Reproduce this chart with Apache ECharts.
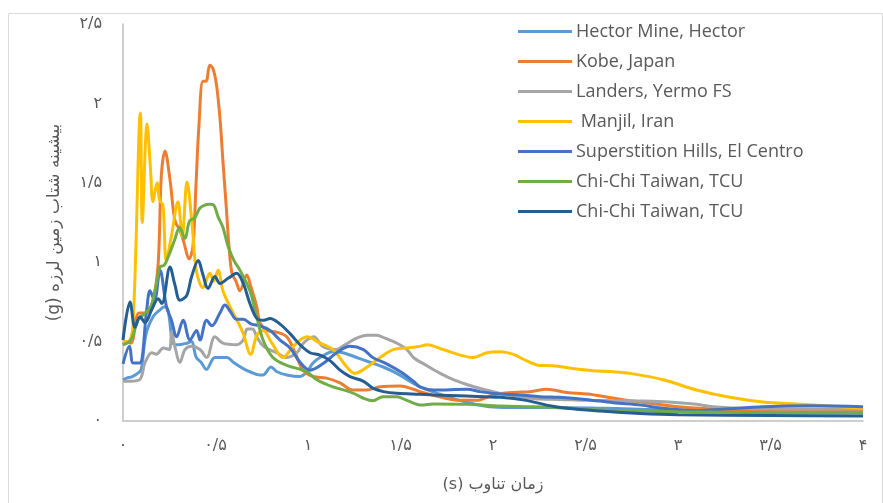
<!DOCTYPE html>
<html>
<head>
<meta charset="utf-8">
<script src="https://cdn.jsdelivr.net/npm/echarts@6/dist/echarts.min.js"></script>
<style>
html,body{margin:0;padding:0;background:#fff;}
#chart{width:883px;height:503px;}
</style>
</head>
<body>
<div id="chart"></div>
<script>
// ---- Data (period s, PGA g) ----
const seriesNames = ['Hector Mine, Hector','Kobe, Japan','Landers, Yermo FS',' Manjil, Iran','Superstition Hills, El Centro','Chi-Chi Taiwan, TCU','Chi-Chi Taiwan, TCU '];
const seriesColors = ['#5B9BD5','#ED7D31','#A5A5A5','#FFC000','#4472C4','#70AD47','#255E91'];

const xTickLabels = ['۰','۰/۵','۱','۱/۵','۲','۲/۵','۳','۳/۵','۴'];
const yTickLabels = ['۰','۰/۵','۱','۱/۵','۲','۲/۵'];
const xAxisTitle = 'زمان تناوب (s)';
const yAxisTitle = 'بیشینه شتاب زمین لرزه (g)';

const hectorT = [0,0.02,0.05,0.09,0.1,0.125,0.164,0.2,0.222,0.243,0.27,0.297,0.344,0.369,0.396,0.422,0.451,0.497,0.562,0.596,0.65,0.686,0.74,0.757,0.8,0.832,0.885,0.957,0.995,1.027,1.065,1.135,1.19,1.263,1.335,1.407,1.48,1.55,1.605,1.71,1.82,1.98,2.09,2.3,2.6,3.0,3.5,4.0];
const hectorA = [0.26,0.27,0.28,0.31,0.33,0.55,0.66,0.70,0.72,0.70,0.49,0.48,0.49,0.50,0.40,0.37,0.325,0.40,0.40,0.37,0.33,0.31,0.29,0.29,0.34,0.31,0.29,0.28,0.31,0.365,0.40,0.436,0.43,0.40,0.37,0.34,0.30,0.25,0.215,0.17,0.13,0.09,0.085,0.085,0.08,0.07,0.07,0.075];

const kobeT = [0,0.02,0.043,0.086,0.12,0.16,0.19,0.207,0.227,0.254,0.281,0.308,0.33,0.357,0.378,0.395,0.41,0.432,0.449,0.469,0.486,0.505,0.524,0.54,0.558,0.573,0.589,0.611,0.632,0.669,0.69,0.723,0.74,0.777,0.83,0.885,0.93,0.973,1.027,1.10,1.173,1.243,1.317,1.39,1.5,1.57,1.605,1.71,1.82,1.91,2.0,2.11,2.2,2.29,2.4,2.51,2.62,2.72,2.795,3.0,3.3,3.6,4.0];
const kobeA = [0.48,0.5,0.49,0.68,0.68,0.75,0.99,1.54,1.70,1.52,1.26,1.20,1.12,1.02,1.10,1.50,1.85,2.14,2.14,2.24,2.22,2.12,1.91,1.64,1.35,1.10,0.93,0.88,0.82,0.92,0.85,0.72,0.62,0.57,0.56,0.53,0.43,0.32,0.28,0.27,0.24,0.195,0.195,0.215,0.22,0.20,0.185,0.153,0.13,0.13,0.164,0.18,0.184,0.20,0.18,0.17,0.15,0.13,0.12,0.09,0.07,0.065,0.06];

const landersT = [0,0.036,0.09,0.12,0.156,0.18,0.218,0.25,0.263,0.28,0.308,0.335,0.37,0.416,0.452,0.497,0.54,0.614,0.65,0.672,0.7,0.723,0.76,0.83,0.885,0.94,0.975,1.03,1.08,1.15,1.2,1.26,1.32,1.37,1.42,1.48,1.535,1.57,1.64,1.715,1.786,1.858,1.93,2.04,2.146,2.254,2.36,2.5,2.65,2.8,2.95,3.1,3.19,3.4,3.7,4.0];
const landersA = [0.25,0.25,0.26,0.37,0.43,0.42,0.46,0.45,0.56,0.47,0.37,0.45,0.47,0.45,0.40,0.53,0.49,0.48,0.51,0.58,0.58,0.53,0.47,0.43,0.40,0.43,0.49,0.53,0.47,0.45,0.48,0.52,0.54,0.54,0.52,0.49,0.45,0.40,0.35,0.30,0.26,0.23,0.205,0.174,0.153,0.138,0.136,0.13,0.128,0.126,0.12,0.105,0.09,0.078,0.075,0.075];

const manjilT = [0,0.027,0.054,0.094,0.104,0.13,0.148,0.162,0.184,0.198,0.216,0.234,0.261,0.297,0.32,0.346,0.373,0.396,0.432,0.47,0.49,0.514,0.54,0.578,0.616,0.65,0.69,0.724,0.757,0.805,0.865,0.92,0.995,1.065,1.135,1.21,1.254,1.32,1.39,1.46,1.535,1.605,1.643,1.73,1.84,1.89,1.968,2.04,2.11,2.18,2.254,2.324,2.43,2.54,2.65,2.74,2.92,3.10,3.28,3.46,3.64,3.82,4.0];
const manjilA = [0.50,0.50,0.60,1.94,1.25,1.87,1.60,1.38,1.50,1.39,1.36,1.01,1.16,1.38,1.16,1.505,1.245,0.95,0.84,0.93,0.88,0.95,0.82,0.72,0.635,0.55,0.42,0.54,0.57,0.49,0.40,0.47,0.53,0.49,0.45,0.34,0.30,0.34,0.40,0.45,0.46,0.47,0.48,0.45,0.41,0.40,0.43,0.436,0.42,0.38,0.35,0.348,0.33,0.316,0.31,0.30,0.26,0.195,0.15,0.12,0.107,0.094,0.08];

const superT = [0,0.035,0.055,0.09,0.128,0.146,0.17,0.2,0.235,0.262,0.29,0.325,0.362,0.398,0.416,0.452,0.48,0.524,0.551,0.58,0.614,0.65,0.695,0.74,0.795,0.849,0.903,0.957,1.011,1.08,1.155,1.227,1.3,1.35,1.425,1.5,1.57,1.605,1.68,1.86,1.93,2.04,2.146,2.254,2.36,2.5,2.65,2.8,2.92,3.1,3.24,3.46,3.73,4.0];
const superA = [0.36,0.47,0.365,0.365,0.70,0.82,0.76,0.95,0.72,0.635,0.53,0.635,0.51,0.57,0.51,0.635,0.60,0.68,0.73,0.69,0.64,0.64,0.61,0.60,0.57,0.51,0.46,0.37,0.32,0.36,0.43,0.47,0.45,0.40,0.36,0.31,0.25,0.215,0.195,0.20,0.185,0.17,0.164,0.153,0.149,0.136,0.115,0.10,0.08,0.065,0.074,0.09,0.096,0.09];

const chichiGT = [0,0.043,0.081,0.12,0.151,0.178,0.2,0.222,0.243,0.279,0.306,0.334,0.36,0.388,0.415,0.442,0.469,0.49,0.514,0.54,0.568,0.6,0.632,0.686,0.723,0.757,0.81,0.885,0.946,0.993,1.047,1.135,1.21,1.254,1.297,1.35,1.405,1.48,1.534,1.615,1.676,1.86,2.04,2.216,2.4,2.58,2.795,3.0,3.5,4.0];
const chichiGA = [0.48,0.51,0.635,0.68,0.72,0.85,0.97,0.98,1.03,1.14,1.22,1.15,1.26,1.28,1.34,1.36,1.365,1.36,1.285,1.22,1.10,1.01,0.95,0.82,0.656,0.51,0.40,0.35,0.33,0.31,0.26,0.215,0.19,0.17,0.145,0.128,0.153,0.153,0.13,0.10,0.107,0.105,0.094,0.09,0.082,0.069,0.063,0.058,0.052,0.05];

const chichiBT = [0,0.038,0.065,0.092,0.119,0.155,0.19,0.21,0.254,0.28,0.308,0.344,0.371,0.407,0.43,0.46,0.497,0.524,0.57,0.614,0.65,0.686,0.723,0.76,0.795,0.849,0.903,0.957,1.011,1.065,1.119,1.173,1.227,1.3,1.353,1.407,1.48,1.605,1.676,1.858,2.04,2.18,2.29,2.4,2.58,2.795,3.0,3.5,4.0];
const chichiBA = [0.51,0.75,0.59,0.656,0.62,0.70,0.77,0.74,0.97,0.86,0.76,0.79,0.91,1.01,0.93,0.835,0.91,0.866,0.90,0.93,0.866,0.74,0.646,0.635,0.646,0.61,0.55,0.48,0.43,0.415,0.38,0.32,0.28,0.25,0.205,0.185,0.174,0.168,0.164,0.157,0.149,0.13,0.10,0.08,0.063,0.048,0.04,0.035,0.032];

const allT = [hectorT,kobeT,landersT,manjilT,superT,chichiGT,chichiBT];
const allA = [hectorA,kobeA,landersA,manjilA,superA,chichiGA,chichiBA];

// right-to-left embedding so the Persian titles lay out as in an RTL paragraph
const rtl = s => '\u202B' + s + '\u202C';

const chart = echarts.init(document.getElementById('chart'), null, {renderer:'canvas'});
const series = seriesNames.map((n,i)=>({
  name:n, type:'line', smooth:0.35, symbol:'none', showSymbol:false,
  data: allT[i].map((t,j)=>[t, allA[i][j]]),
  lineStyle:{color:seriesColors[i], width:3},
  itemStyle:{color:seriesColors[i]},
  emphasis:{disabled:true}, animation:false
}));

chart.setOption({
  animation:false,
  backgroundColor:'#ffffff',
  grid:{left:123, right:20, top:24, bottom:82, containLabel:false},
  graphic:[{type:'rect', shape:{x:8.5,y:13.5,width:874,height:495}, style:{fill:'none', stroke:'#D9D9D9', lineWidth:1}, silent:true}],
  legend:{
    orient:'vertical', left:518, top:19, padding:0, icon:'rect', itemWidth:54, itemHeight:3, itemGap:5,
    data:seriesNames,
    textStyle:{color:'#595959', fontSize:18, fontFamily:'Open Sans', lineHeight:25, padding:[0,0,0,-1]}
  },
  xAxis:{
    type:'value', min:0, max:4, interval:0.5,
    name:rtl(xAxisTitle), nameLocation:'middle', nameGap:56,
    nameTextStyle:{color:'#595959', fontSize:16, fontFamily:'DejaVu Sans'},
    axisLine:{show:true, lineStyle:{color:'#BFBFBF', width:1.5}},
    axisTick:{show:false}, splitLine:{show:false},
    axisLabel:{color:'#595959', fontSize:16, fontFamily:'DejaVu Sans', margin:17,
      formatter:v=>xTickLabels[Math.round(v/0.5)]}
  },
  yAxis:{
    type:'value', min:0, max:2.5, interval:0.5,
    name:rtl(yAxisTitle), nameLocation:'middle', nameGap:60, nameRotate:90,
    nameTextStyle:{color:'#595959', fontSize:17, fontFamily:'DejaVu Sans'},
    axisLine:{show:true, lineStyle:{color:'#BFBFBF', width:1.5}},
    axisTick:{show:false}, splitLine:{show:false},
    axisLabel:{color:'#595959', fontSize:16, fontFamily:'DejaVu Sans', margin:21,
      formatter:v=>yTickLabels[Math.round(v/0.5)]}
  },
  series:series
});
</script>
</body>
</html>
